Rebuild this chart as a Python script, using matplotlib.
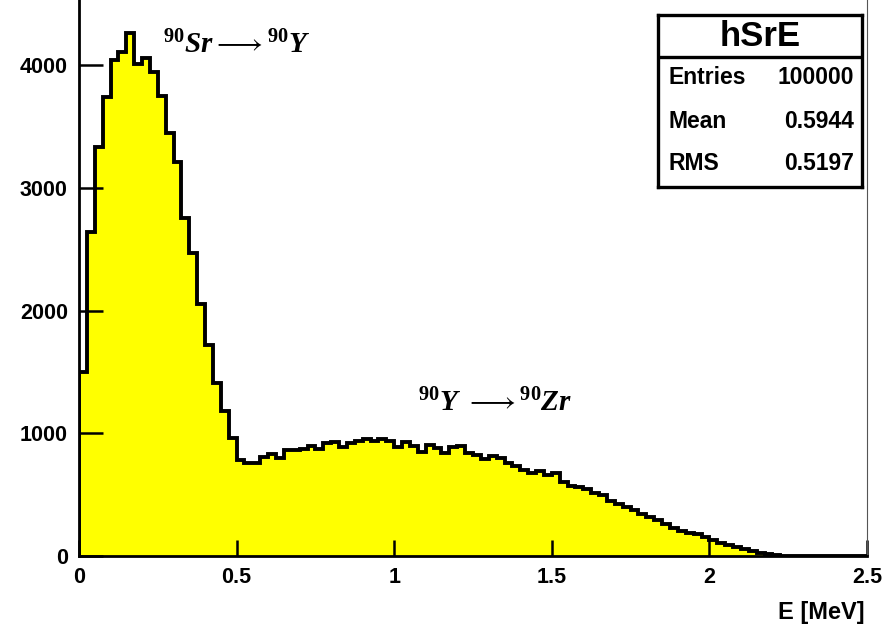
import numpy as np
import matplotlib
matplotlib.use("Agg")
import matplotlib.pyplot as plt

plt.rcParams["font.family"] = ["Liberation Sans", "DejaVu Sans"]
plt.rcParams["mathtext.fontset"] = "custom"
plt.rcParams["mathtext.rm"] = "Liberation Serif:bold"
plt.rcParams["mathtext.it"] = "Liberation Serif:italic:bold"
plt.rcParams["mathtext.bf"] = "Liberation Serif:bold"

# histogram hSrE: 100 bins from 0 to 2.5 MeV
e_min, e_max, n_bins = 0.0, 2.5, 100
counts = [
    1500, 2640, 3330, 3740, 4040, 4110, 4260, 4010, 4060, 3940,
    3750, 3450, 3210, 2750, 2470, 2050, 1720, 1410, 1180, 960,
    785, 760, 760, 805, 835, 800, 860, 865, 870, 900,
    875, 920, 930, 885, 920, 935, 950, 940, 955, 940,
    890, 930, 900, 850, 905, 880, 840, 885, 895, 840,
    825, 790, 815, 800, 760, 735, 700, 680, 690, 660,
    675, 600, 570, 565, 545, 515, 500, 445, 420, 400,
    375, 345, 320, 295, 260, 228, 206, 190, 178, 157,
    130, 108, 90, 73, 58, 40, 25, 16, 8, 3,
    0, 0, 0, 0, 0, 0, 0, 0, 0, 0,
]
stats_labels = ["Entries", "Mean", "RMS"]
stats_values = ["100000", "0.5944", "0.5197"]
y_ticks = [0, 1000, 2000, 3000, 4000]
x_ticks = [0, 0.5, 1, 1.5, 2, 2.5]
x_ticklabels = ["0", "0.5", "1", "1.5", "2", "2.5"]

edges = np.linspace(e_min, e_max, n_bins + 1)

fig = plt.figure(figsize=(8.86, 6.31), dpi=100)
ax = fig.add_axes([79 / 886, 75 / 631, 788 / 886, 556 / 631])

ax.stairs(counts, edges, fill=True, color="#ffff00", baseline=0)
ax.stairs(counts, edges, color="black", linewidth=2.8, baseline=0)

ax.set_xlim(e_min, e_max)
ax.set_ylim(0, 4530)
ax.set_xticks(x_ticks)
ax.set_xticklabels(x_ticklabels)
ax.set_yticks(y_ticks)

for s in ["left", "bottom"]:
    ax.spines[s].set_linewidth(2.0)
ax.spines["top"].set_visible(False)
ax.spines["right"].set_linewidth(0.8)
ax.spines["right"].set_color("#555555")

ax.tick_params(axis="y", direction="in", length=17, width=1.8, pad=8,
               labelsize=15.5)
ax.tick_params(axis="x", direction="in", length=11.5, width=1.8, pad=8,
               labelsize=15.5)
for lab in ax.get_xticklabels() + ax.get_yticklabels():
    lab.set_fontweight("bold")

fig.text(865 / 886, 1 - 612 / 631, "E [MeV]", ha="right", va="center",
         fontsize=17, fontweight="bold")

ax.text(0.266, 4163, r"$^{90}Sr\longrightarrow^{90}Y$", fontsize=21,
        va="center", ha="left")
ax.text(1.075, 1246, r"$^{90}Y\ \longrightarrow{}^{90}Zr$", fontsize=21,
        va="center", ha="left")

# stats box
box = fig.add_axes([658 / 886, 1 - 187 / 631, 204 / 886, 172 / 631])
box.set_xticks([])
box.set_yticks([])
box.set_xlim(0, 1)
box.set_ylim(0, 1)
for s in box.spines.values():
    s.set_linewidth(2.4)
box.axhline(1 - 42 / 172, color="black", linewidth=2.4)
box.text(0.5, 1 - 22 / 172, "hSrE", ha="center", va="center",
         fontsize=25, fontweight="bold")
row_y = [77, 121, 163]
for lab, val, yy in zip(stats_labels, stats_values, row_y):
    yf = 1 - (yy - 15) / 172
    box.text(0.05, yf, lab, ha="left", va="center", fontsize=16.5,
             fontweight="bold")
    box.text(0.96, yf, val, ha="right", va="center", fontsize=16.5,
             fontweight="bold")

fig.savefig("out.png", dpi=100)
